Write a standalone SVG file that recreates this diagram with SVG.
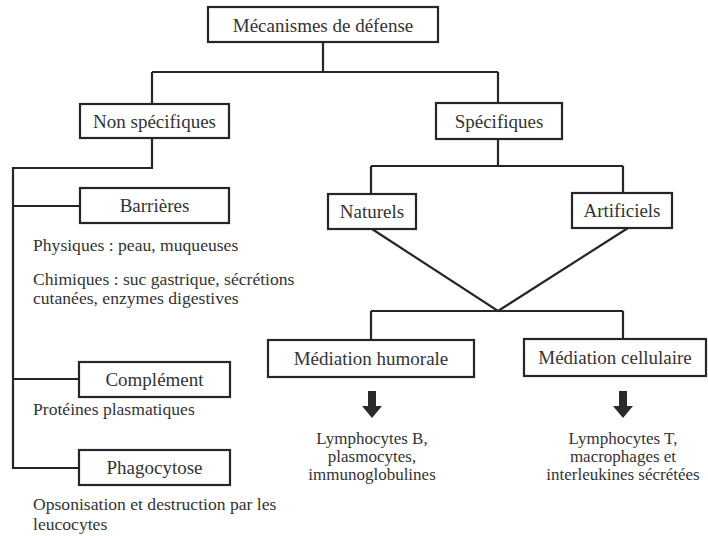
<svg xmlns="http://www.w3.org/2000/svg" width="708" height="536" viewBox="0 0 708 536">
<style>
.box{fill:#fff;stroke:#262626;stroke-width:2.2}
.lbl{font-size:19px;text-anchor:middle}
.txt{font-size:17.6px}
.ctr{text-anchor:middle;font-size:17px}
.con{fill:none;stroke:#262626;stroke-width:2.2}
.arr{fill:#2a2a2a}
</style>
<rect width="708" height="536" fill="#fff"/>
<g id="connectors">
<path class="con" d="M323 42V72M152 72H498M152 72V104M498 72V103"/>
<path class="con" d="M152 138V168H13V468H79M13 206H80M13 379H79"/>
<path class="con" d="M498 139V166M371 166H623M371 166V194M623 166V193"/>
<path class="con" d="M372 229L498 311L628 228"/>
<path class="con" d="M371 311H623M371 311V340M623 311V339"/>
<path class="arr" d="M368 391H376V406H382L372 418L362 406H368Z"/>
<path class="arr" d="M619 391H627V406H633L623 418L613 406H619Z"/>
</g>
<g font-family="Liberation Serif, Times New Roman, DejaVu Serif, serif" fill="#333">
<g id="n-mecanismes"><rect class="box" x="208" y="7" width="230" height="35"/><text class="lbl" x="323" y="32">Mécanismes de défense</text></g>
<g id="n-nonspec"><rect class="box" x="80" y="104" width="149" height="34"/><text class="lbl" x="154.5" y="128">Non spécifiques</text></g>
<g id="n-spec"><rect class="box" x="436" y="103" width="126" height="36"/><text class="lbl" x="499" y="128">Spécifiques</text></g>
<g id="n-barrieres"><rect class="box" x="80" y="188" width="149" height="35"/><text class="lbl" x="154.5" y="212">Barrières</text>
<text class="txt" x="33" y="251">Physiques : peau, muqueuses</text>
<text class="txt" x="33" y="285">Chimiques : suc gastrique, sécrétions</text>
<text class="txt" x="33" y="304">cutanées, enzymes digestives</text></g>
<g id="n-complement"><rect class="box" x="79" y="362" width="151" height="35"/><text class="lbl" x="154.5" y="386">Complément</text>
<text class="txt" x="33" y="415">Protéines plasmatiques</text></g>
<g id="n-phago"><rect class="box" x="79" y="450" width="151" height="35"/><text class="lbl" x="154.5" y="474">Phagocytose</text>
<text class="txt" x="33" y="510">Opsonisation et destruction par les</text>
<text class="txt" x="33" y="530">leucocytes</text></g>
<g id="n-naturels"><rect class="box" x="328" y="194" width="88" height="35"/><text class="lbl" x="372" y="218">Naturels</text></g>
<g id="n-artificiels"><rect class="box" x="572" y="193" width="100" height="35"/><text class="lbl" x="622" y="217">Artificiels</text></g>
<g id="n-humorale"><rect class="box" x="268" y="340" width="206" height="37"/><text class="lbl" x="371" y="365">Médiation humorale</text>
<text class="ctr" x="372" y="444">Lymphocytes B,</text>
<text class="ctr" x="372" y="462">plasmocytes,</text>
<text class="ctr" x="372" y="480">immunoglobulines</text></g>
<g id="n-cellulaire"><rect class="box" x="524" y="339" width="182" height="37"/><text class="lbl" x="615" y="364">Médiation cellulaire</text>
<text class="ctr" x="623" y="444">Lymphocytes T,</text>
<text class="ctr" x="623" y="462">macrophages et</text>
<text class="ctr" x="623" y="480">interleukines sécrétées</text></g>
</g>
</svg>
